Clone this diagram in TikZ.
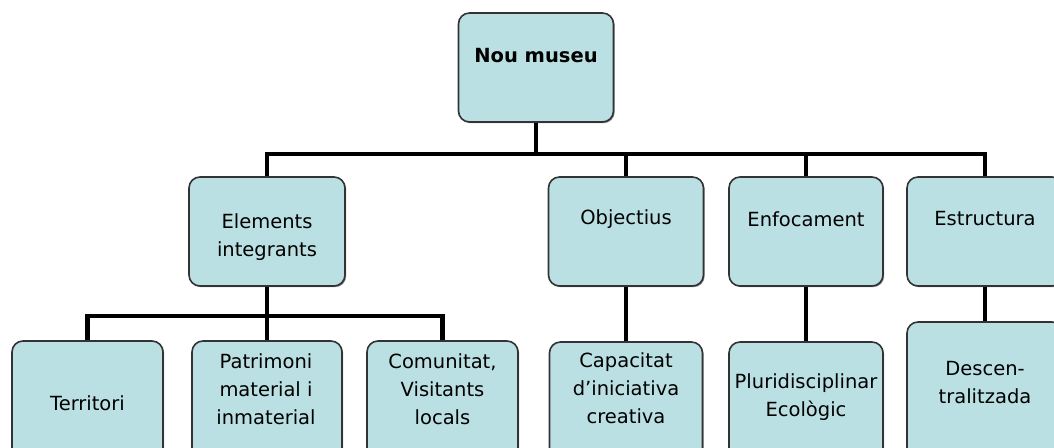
\documentclass[tikz,border=0pt]{standalone}
\usepackage{fontspec}
\setmainfont{DejaVu Sans}
\usetikzlibrary{shadows}
\definecolor{boxfill}{RGB}{187,224,227}
\begin{document}
\begin{tikzpicture}[x=1pt,y=-1pt,
  box/.style={draw=black!80, line width=1.6pt, fill=boxfill, rounded corners=11pt, inner sep=0pt,
    drop shadow={shadow xshift=1.2pt, shadow yshift=-1.2pt, fill=black!45, opacity=1}},
  lbl/.style={font=\fontsize{19.5}{28}\selectfont, align=center, inner sep=0pt},
  conn/.style={line width=4.5pt, line join=miter}]
\clip (0,0) rectangle (1054,447);
% boxes
\node[box, minimum width=155pt, minimum height=109pt] (nou) at (536,67.5) {};
\node[box, minimum width=156pt, minimum height=109pt] (elem) at (267,231.5) {};
\node[box, minimum width=155pt, minimum height=109pt] (obj) at (626,231.5) {};
\node[box, minimum width=154pt, minimum height=109pt] (enf) at (806,231.5) {};
\node[box, minimum width=156pt, minimum height=109pt] (estr) at (985,231.5) {};
\node[box, minimum width=151pt, minimum height=120pt] (terr) at (87.5,401) {};
\node[box, minimum width=150pt, minimum height=120pt] (patr) at (267,401) {};
\node[box, minimum width=151pt, minimum height=120pt] (comu) at (442.5,401) {};
\node[box, minimum width=153pt, minimum height=120pt] (cap) at (626,402) {};
\node[box, minimum width=154pt, minimum height=120pt] (plu) at (806,402) {};
\node[box, minimum width=156pt, minimum height=140pt] (desc) at (985,392) {};
% texts
\node[lbl, font=\fontsize{19.5}{28}\selectfont\bfseries] (tnou) at (536,56) {Nou museu};
\node[lbl] (telem) at (267,237) {Elements\\integrants};
\node[lbl] (tobj) at (626,219) {Objectius};
\node[lbl] (tenf) at (806,219) {Enfocament};
\node[lbl] (testr) at (985,219) {Estructura};
\node[lbl] (tterr) at (87.5,403) {Territori};
\node[lbl] (tpatr) at (266,389) {Patrimoni\\material i\\inmaterial};
\node[lbl] (tcomu) at (442.5,389) {Comunitat,\\Visitants\\locals};
\node[lbl] (tcap) at (626,388) {Capacitat\\d’iniciativa\\creativa};
\node[lbl] (tplu) at (806,397) {Pluridisciplinar\\Ecològic};
\node[lbl] (tdesc) at (985,383) {Descen-\\tralitzada};
% connectors
\path (nou.south) ++(0,31) coordinate (bus);
\draw[conn] (nou.south) -- (bus);
\draw[conn] (bus) -| (elem.north);
\draw[conn] (bus) -| (obj.north);
\draw[conn] (bus) -| (enf.north);
\draw[conn] (bus) -| (estr.north);
\path (elem.south) ++(0,29) coordinate (bus2);
\draw[conn] (elem.south) -- (bus2);
\draw[conn] (bus2) -| (terr.north);
\draw[conn] (bus2) -- (patr.north);
\draw[conn] (bus2) -| (comu.north);
\draw[conn] (obj.south) -- (cap.north);
\draw[conn] (enf.south) -- (plu.north);
\draw[conn] (estr.south) -- (desc.north);
\end{tikzpicture}
\end{document}
